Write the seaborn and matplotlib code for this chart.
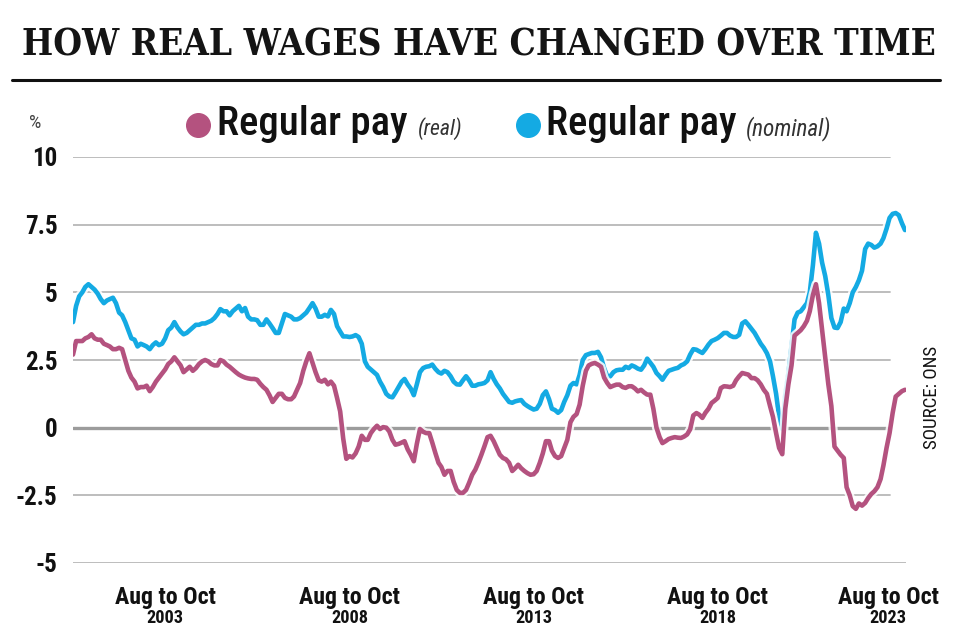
import matplotlib
matplotlib.use('Agg')
import matplotlib.pyplot as plt
import matplotlib.patheffects as pe
import matplotlib.transforms as mtransforms
from matplotlib import font_manager
from matplotlib.lines import Line2D
import seaborn as sns
import pandas as pd

# regular pay growth, 3-month average, % on a year earlier
# first period ends Mar 2001, last period Aug to Oct 2023 (monthly)
start_month = '2001-03-01'

nominal_pay = [
    3.9, 4.5, 4.85, 5.0, 5.2, 5.3, 5.2, 5.1, 4.95, 4.75,
    4.6, 4.7, 4.75, 4.8, 4.6, 4.25, 4.15, 3.9, 3.6, 3.3,
    3.25, 3.0, 3.1, 3.05, 3.0, 2.9, 3.05, 3.15, 3.05, 3.1,
    3.3, 3.6, 3.7, 3.9, 3.7, 3.55, 3.45, 3.5, 3.6, 3.7,
    3.8, 3.8, 3.85, 3.85, 3.9, 3.95, 4.05, 4.2, 4.38, 4.3,
    4.3, 4.15, 4.3, 4.4, 4.5, 4.3, 4.42, 4.1, 4.0, 4.0,
    3.97, 3.8, 3.8, 4.0, 3.85, 3.68, 3.5, 3.5, 3.85, 4.2,
    4.15, 4.1, 4.0, 4.0, 4.05, 4.15, 4.25, 4.42, 4.6, 4.4,
    4.1, 4.1, 4.17, 4.11, 4.35, 4.2, 3.75, 3.55, 3.37, 3.37,
    3.35, 3.37, 3.42, 3.35, 3.1, 2.45, 2.25, 2.15, 2.05, 1.95,
    1.7, 1.5, 1.25, 1.15, 1.12, 1.3, 1.5, 1.7, 1.8, 1.6,
    1.45, 1.2, 1.6, 2.05, 2.2, 2.25, 2.27, 2.33, 2.17, 2.05,
    2.0, 2.1, 2.05, 1.9, 1.7, 1.6, 1.59, 1.75, 1.9, 1.75,
    1.55, 1.55, 1.6, 1.62, 1.65, 1.75, 2.05, 1.8, 1.6, 1.45,
    1.25, 1.1, 0.95, 0.92, 0.97, 1.0, 1.02, 0.88, 0.8, 0.73,
    0.67, 0.7, 0.88, 1.2, 1.34, 1.05, 0.7, 0.65, 0.55, 0.65,
    0.95, 1.2, 1.55, 1.65, 1.6, 1.95, 2.5, 2.68, 2.72, 2.76,
    2.76, 2.8, 2.6, 2.2, 1.9, 1.9, 2.05, 2.12, 2.14, 2.14,
    2.25, 2.2, 2.3, 2.25, 2.18, 2.14, 2.3, 2.55, 2.4, 2.25,
    2.02, 1.9, 1.77, 1.95, 2.1, 2.14, 2.18, 2.21, 2.3, 2.35,
    2.45, 2.7, 2.9, 2.88, 2.82, 2.76, 2.9, 3.07, 3.2, 3.25,
    3.31, 3.4, 3.5, 3.5, 3.4, 3.35, 3.35, 3.43, 3.85, 3.93,
    3.8, 3.65, 3.5, 3.3, 3.1, 2.95, 2.75, 2.45, 1.9, 1.25,
    0.4, -0.05, 1.2, 2.0, 3.0, 4.0, 4.25, 4.3, 4.45, 4.6,
    5.0, 6.0, 7.2, 6.8, 6.1, 5.6, 4.9, 4.05, 3.7, 3.68,
    3.9, 4.4, 4.3, 4.6, 5.0, 5.2, 5.45, 5.8, 6.6, 6.8,
    6.75, 6.65, 6.7, 6.8, 7.0, 7.35, 7.75, 7.9, 7.93, 7.85,
    7.55, 7.3,
]

real_pay = [
    2.7, 3.2, 3.2, 3.2, 3.3, 3.35, 3.45, 3.3, 3.25, 3.25,
    3.1, 3.05, 3.0, 2.9, 2.9, 2.95, 2.9, 2.5, 2.1, 1.85,
    1.7, 1.45, 1.5, 1.5, 1.55, 1.35, 1.5, 1.7, 1.85, 2.0,
    2.15, 2.35, 2.45, 2.6, 2.45, 2.3, 2.05, 2.15, 2.25, 2.1,
    2.2, 2.35, 2.45, 2.5, 2.45, 2.35, 2.3, 2.3, 2.5, 2.45,
    2.33, 2.25, 2.15, 2.05, 1.96, 1.9, 1.85, 1.82, 1.8, 1.8,
    1.77, 1.62, 1.5, 1.4, 1.2, 0.95, 1.1, 1.25, 1.25, 1.1,
    1.05, 1.05, 1.15, 1.4, 1.65, 2.1, 2.45, 2.75, 2.4, 2.05,
    1.75, 1.7, 1.77, 1.6, 1.7, 1.55, 1.1, 0.6, -0.4, -1.15,
    -1.05, -1.1, -0.95, -0.7, -0.3, -0.45, -0.45, -0.2, -0.05, 0.07,
    -0.05, 0.02, 0.0, -0.14, -0.45, -0.63, -0.6, -0.55, -0.5, -0.8,
    -1.0, -1.24, -0.6, -0.05, -0.15, -0.2, -0.2, -0.55, -0.94, -1.3,
    -1.45, -1.74, -1.6, -1.6, -2.0, -2.3, -2.41, -2.41, -2.3, -2.04,
    -1.74, -1.55, -1.3, -1.0, -0.69, -0.35, -0.3, -0.5, -0.75, -1.0,
    -1.12, -1.17, -1.3, -1.6, -1.5, -1.37, -1.5, -1.6, -1.68, -1.74,
    -1.72, -1.6, -1.3, -0.95, -0.5, -0.5, -0.85, -1.05, -1.12, -1.05,
    -0.75, -0.45, 0.2, 0.4, 0.5, 0.85, 1.55, 2.1, 2.3, 2.36,
    2.39, 2.33, 2.25, 1.85, 1.65, 1.5, 1.55, 1.59, 1.59, 1.5,
    1.47, 1.53, 1.53, 1.45, 1.34, 1.4, 1.3, 1.22, 1.22, 0.7,
    0.0, -0.35, -0.57, -0.5, -0.42, -0.38, -0.35, -0.37, -0.38, -0.33,
    -0.25, -0.06, 0.45, 0.54, 0.48, 0.36, 0.55, 0.7, 0.91, 1.0,
    1.1, 1.46, 1.53, 1.52, 1.5, 1.55, 1.75, 1.9, 2.02, 1.99,
    1.96, 1.83, 1.83, 1.75, 1.6, 1.4, 1.25, 0.8, 0.4, -0.2,
    -0.75, -0.98, 0.7, 1.6, 2.3, 3.4, 3.5, 3.6, 3.75, 3.95,
    4.3, 4.9, 5.3, 4.6, 3.6, 2.6, 1.6, 0.8, -0.7, -0.85,
    -1.0, -1.12, -2.2, -2.5, -2.9, -3.0, -2.8, -2.88, -2.78, -2.6,
    -2.45, -2.35, -2.2, -1.9, -1.4, -0.75, -0.2, 0.55, 1.15, 1.25,
    1.35, 1.4,
]

y_ticks = [-5, -2.5, 0, 2.5, 5, 7.5, 10]
y_tick_labels = ['-5', '-2.5', '0', '2.5', '5', '7.5', '10']
x_tick_years = [2003, 2008, 2013, 2018, 2023]

PINK = '#b4527f'
BLUE = '#14aae3'
GRID = '#b8b8b8'

installed = {f.name for f in font_manager.fontManager.ttflist}


def pick(*names):
    for n in names:
        if n in installed:
            return n
    return 'DejaVu Sans'


COND = pick('Roboto Condensed', 'Liberation Sans Narrow', 'Open Sans Condensed', 'Roboto', 'Open Sans')
SLAB = 'DejaVu Serif'

sns.set_style('white')

dates = pd.date_range(start_month, periods=len(real_pay), freq='MS')
df = pd.DataFrame({'date': dates, 'real': real_pay, 'nominal': nominal_pay})

fig = plt.figure(figsize=(9.6, 6.4), dpi=100)
ax = fig.add_axes([73/960, 1 - 563/640, (906 - 73)/960, (563 - 157)/640])
renderer = fig.canvas.get_renderer()


def fit(t, width_px, vertical=False):
    bb = t.get_window_extent(renderer)
    w = bb.height if vertical else bb.width
    t.set_fontsize(t.get_fontsize() * width_px / w)


# grid
for v in y_ticks:
    ax.axhline(v, xmin=0, xmax=1 if v == -5 else 0.981,
               color='#9c9c9c' if v == 0 else GRID,
               lw=2.4 if v == 0 else 1.3, zorder=1)

sns.lineplot(data=df, x='date', y='nominal', color=BLUE, lw=3.3, ax=ax, zorder=3)
sns.lineplot(data=df, x='date', y='real', color=PINK, lw=3.3, ax=ax, zorder=4)
halo = [pe.Stroke(linewidth=6.5, foreground='white', alpha=0.85), pe.Normal()]
for line in ax.lines[-2:]:
    line.set_path_effects(halo)
    line.set_solid_joinstyle('round')
    line.set_solid_capstyle('round')

ax.set_ylim(-5, 10)
ax.set_xlim(dates[0], dates[-1] + pd.Timedelta(days=10))
ax.set(xlabel='', ylabel='')
for s in ax.spines.values():
    s.set_visible(False)

ax.set_yticks(y_ticks)
ax.set_yticklabels(y_tick_labels, fontfamily=COND, fontweight='bold', fontsize=18, color='#111111')
ax.tick_params(axis='y', length=0, pad=11)

tick_dates = [pd.Timestamp(f'{y}-10-01') for y in x_tick_years]
ax.set_xticks(tick_dates)
ax.set_xticklabels([])
ax.tick_params(axis='x', length=12, width=1, color=GRID, direction='out')

for i, (d, yr) in enumerate(zip(tick_dates, x_tick_years)):
    shift = -17 if i == len(tick_dates) - 1 else -3
    tr = ax.get_xaxis_transform() + mtransforms.ScaledTranslation(shift/100, 0, fig.dpi_scale_trans)
    t1 = ax.text(d, -0.084, 'Aug to Oct', transform=tr, ha='center', va='center',
                 fontfamily=COND, fontweight='bold', fontsize=15, color='#111111')
    fit(t1, 101)
    t2 = ax.text(d, -0.135, str(yr), transform=tr, ha='center', va='center',
                 fontfamily=COND, fontweight='bold', fontsize=11, color='#111111')
    fit(t2, 37)

# title and rule
title = fig.text(22/960, 1 - 45/640, 'HOW REAL WAGES HAVE CHANGED OVER TIME',
                 fontfamily=SLAB, fontweight='heavy', fontstretch='condensed',
                 fontsize=26, ha='left', va='center', color='#141414')
fit(title, 916)
fig.add_artist(Line2D([12/960, 940/960], [1 - 80/640] * 2, color='#111111', lw=2.2,
                      transform=fig.transFigure))

fig.text(35/960, 1 - 123/640, '%', fontfamily=COND, fontsize=14, color='#444444',
         ha='center', va='center')

# legend
for cx, col, x_main, x_note, note, w_note in [(198, PINK, 217, 418, '(real)', 45),
                                               (528, BLUE, 546, 746, '(nominal)', 86)]:
    fig.add_artist(Line2D([cx/960], [1 - 125/640], marker='o', ms=17, color=col,
                          linestyle='none', transform=fig.transFigure))
    t = fig.text(x_main/960, 1 - 135/640, 'Regular pay', fontfamily=COND, fontsize=24,
                 fontweight='medium', ha='left', va='baseline', color='#111111')
    fit(t, 191)
    n = fig.text(x_note/960, 1 - 135/640, note, fontfamily=COND, style='italic',
                 fontsize=14, ha='left', va='baseline', color='#333333')
    fit(n, w_note)

src = fig.text(932/960, 1 - 397/640, 'SOURCE: ONS', rotation=90, fontfamily=COND,
               fontsize=12, ha='center', va='center', color='#111111')
fit(src, 103, vertical=True)

fig.savefig('out.png', dpi=100)
